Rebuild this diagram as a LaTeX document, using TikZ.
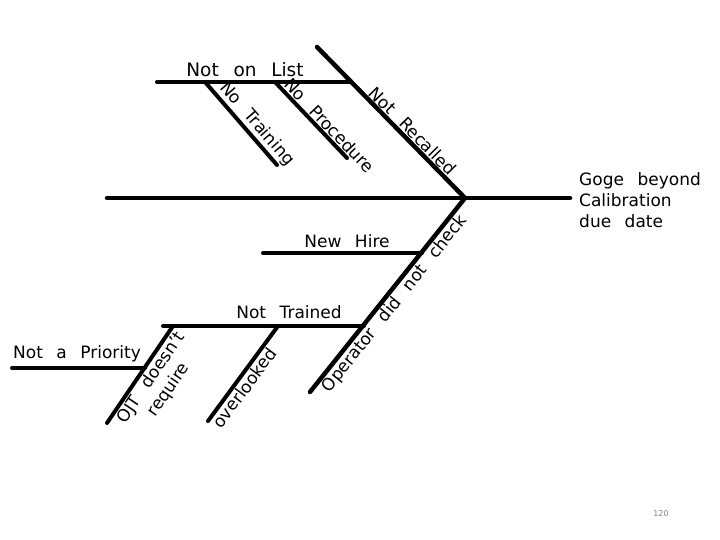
\documentclass[tikz,border=0pt]{standalone}
\usepackage{fontspec}
\setmainfont[WordSpace=2.5]{DejaVu Sans}
\usetikzlibrary{positioning, calc}

\begin{document}
\begin{tikzpicture}[
    x=1pt, y=-1pt,
    every node/.style={font=\fontsize{17}{21}\selectfont, inner sep=1pt},
    bone/.style={line width=4.5pt, line cap=round},
    twig/.style={line width=4pt, line cap=round},
    bonetext/.style={anchor=center},
    uptext/.style={anchor=south, inner sep=3pt},
    downtext/.style={anchor=north, inner sep=3pt},
    effecttext/.style={anchor=west, align=left},
    pagenum/.style={font=\fontsize{8}{10}\selectfont, text=gray}
]

\useasboundingbox (0,0) rectangle (720,540);

% ============ SPINE ============
\coordinate (tail) at (107,198);
\coordinate (joint) at (465,198);
\coordinate (head) at (570,198);
\draw[bone] (tail) -- (head);

\node[effecttext] (effect) at (578,200) {Goge beyond\\Calibration\\due date};

% ============ UPPER BONE: Not Recalled ============
\coordinate (nrTop) at (317,47);
\draw[bone] (nrTop) -- (joint);
\node[uptext, rotate=-45.6] (recalled) at ($(nrTop)!0.6!(joint)$) {Not Recalled};

% Not on List
\coordinate (nolL) at (157,82);
\coordinate (nolR) at (351,82);
\draw[twig] (nolL) -- (nolR);
\node[bonetext, font=\fontsize{18.5}{22}\selectfont] (onlist) at (245,70) {Not on List};

\coordinate (ntrTop) at (205,82);
\coordinate (ntrEnd) at (277,165);
\draw[twig] (ntrTop) -- (ntrEnd);
\node[uptext, rotate=-49] (training) at ($(ntrTop)!0.6!(ntrEnd)$) {No Training};

\coordinate (nprTop) at (275,82);
\coordinate (nprEnd) at (347,158);
\draw[twig] (nprTop) -- (nprEnd);
\node[uptext, rotate=-46.5] (procedure) at ($(nprTop)!0.66!(nprEnd)$) {No Procedure};

% ============ LOWER BONE: Operator did not check ============
\coordinate (opEnd) at (310,392);
\draw[bone] (joint) -- (opEnd);
\node[downtext, rotate=51.4] (operator) at ($(joint)!0.51!(opEnd)$) {Operator did not check};

% New Hire
\coordinate (nhL) at (263,253);
\coordinate (nhR) at (422,253);
\draw[twig] (nhL) -- (nhR);
\node[bonetext] (newhire) at (347,241) {New Hire};

% Not Trained
\coordinate (ntL) at (163,326);
\coordinate (ntR) at (364,326);
\draw[twig] (ntL) -- (ntR);
\node[bonetext] (trained) at (289,312) {Not Trained};

\coordinate (ojtTop) at (173,326);
\coordinate (ojtEnd) at (107,423);
\draw[twig] (ojtTop) -- (ojtEnd);
\node[downtext, rotate=55.8, align=center] (ojt) at ($(ojtTop)!0.47!(ojtEnd)$) {OJT doesn't\\require};

\coordinate (ovTop) at (278,326);
\coordinate (ovEnd) at (208,421);
\draw[twig] (ovTop) -- (ovEnd);
\node[downtext, rotate=53.6] (overlooked) at ($(ovTop)!0.59!(ovEnd)$) {overlooked};

% Not a Priority
\coordinate (napL) at (12,368);
\coordinate (napR) at (145,368);
\draw[twig] (napL) -- (napR);
\node[bonetext] (priority) at (77,354) {Not a Priority};

% page number
\node[pagenum] (page) at (661,514) {120};

\end{tikzpicture}
\end{document}
